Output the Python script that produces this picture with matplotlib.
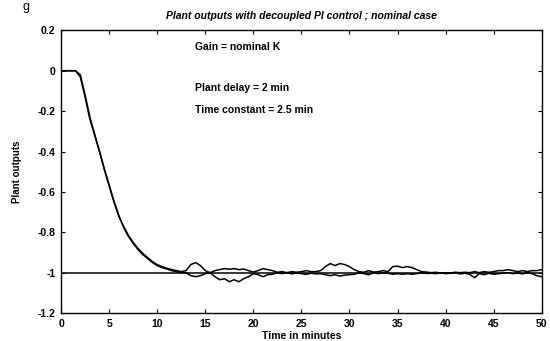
import numpy as np
import matplotlib
matplotlib.use("Agg")
import matplotlib.pyplot as plt

plt.rcParams['font.family'] = ['Liberation Sans', 'DejaVu Sans']

# time grid (minutes), one sample every half minute
t = np.arange(0, 50.5, 0.5)

# plant output 1 (upper one in the oscillation bubbles)
y1 = [0, 0, 0, 0, -0.03, -0.13, -0.24, -0.32, -0.40, -0.49,
      -0.57, -0.65, -0.72, -0.77, -0.815, -0.85, -0.88, -0.905, -0.925, -0.945,
      -0.96, -0.97, -0.978, -0.985, -0.99, -0.995, -0.99, -0.96, -0.95, -0.965,
      -0.99, -1.0, -0.99, -0.985, -0.98, -0.983, -0.98, -0.985, -0.982, -0.99,
      -0.997, -0.99, -0.98, -0.985, -0.99, -0.998, -0.995, -1.0, -0.995, -0.998,
      -0.995, -0.99, -0.995, -0.995, -0.99, -0.97, -0.955, -0.965, -0.955, -0.96,
      -0.97, -0.985, -0.995, -0.998, -0.99, -0.997, -0.995, -0.99, -0.995, -0.97,
      -0.968, -0.975, -0.97, -0.975, -0.985, -0.995, -0.997, -1.0, -0.998, -1.003,
      -1.0, -1.002, -0.998, -1.0, -0.998, -1.0, -0.995, -1.0, -0.995, -0.998,
      -0.995, -0.99, -0.99, -0.985, -0.99, -0.995, -0.99, -0.995, -0.99, -0.99,
      -0.985]

# plant output 2
y2 = [0, 0, 0, 0, -0.02, -0.12, -0.23, -0.315, -0.40, -0.485,
      -0.565, -0.645, -0.715, -0.775, -0.82, -0.855, -0.885, -0.91, -0.93, -0.95,
      -0.965, -0.975, -0.982, -0.99, -0.995, -1.0, -1.0, -1.015, -1.02, -1.015,
      -1.005, -1.0, -1.02, -1.035, -1.03, -1.045, -1.035, -1.045, -1.03, -1.02,
      -1.005, -1.01, -1.02, -1.01, -1.008, -1.0, -1.005, -1.0, -1.006, -1.0,
      -1.005, -1.008, -1.003, -1.006, -1.005, -1.01, -1.015, -1.01, -1.017, -1.012,
      -1.01, -1.008, -1.0, -1.005, -1.01, -1.0, -1.005, -1.0, -1.003, -1.008,
      -1.005, -1.008, -1.005, -1.008, -1.005, -1.0, -1.004, -1.003, -1.005, -1.0,
      -1.005, -1.003, -1.0, -1.006, -1.003, -1.008, -1.025, -1.005, -1.01, -1.003,
      -1.008, -1.005, -1.002, -1.0, -1.005, -1.002, -1.006, -1.0, -1.005, -1.015,
      -1.02]

# setpoint
sp_t = [0, 50]
sp_y = [-1, -1]

notes = ["Gain = nominal K", "Plant delay = 2 min", "Time constant = 2.5 min"]
note_y = [0.12, -0.085, -0.195]

fig = plt.figure(figsize=(5.5, 3.41), dpi=100)
ax = fig.add_axes([0.111, 0.082, 0.874, 0.829])

ax.plot(sp_t, sp_y, color='black', lw=1.1)
ax.plot(t, y1, color='black', lw=1.1)
ax.plot(t, y2, color='black', lw=1.1)

for s, yy in zip(notes, note_y):
    ax.text(13.9, yy, s, fontsize=7.5, fontweight='bold', va='center', ha='left')

ax.set_xlim(0, 50)
ax.set_ylim(-1.2, 0.2)
ax.set_xticks(np.arange(0, 51, 5))
ax.set_yticks([-1.2, -1, -0.8, -0.6, -0.4, -0.2, 0, 0.2])
ax.set_yticklabels(['-1.2', '-1', '-0.8', '-0.6', '-0.4', '-0.2', '0', '0.2'])
ax.tick_params(direction='in', top=True, right=True, length=3, width=0.8,
               labelsize=7.5, pad=4)
for lab in ax.get_xticklabels() + ax.get_yticklabels():
    lab.set_fontweight('bold')
for sp in ax.spines.values():
    sp.set_linewidth(1.0)

ax.set_title("Plant outputs with decoupled PI control ; nominal case",
             fontsize=7.5, fontweight='bold', style='italic', pad=8)
ax.set_xlabel("Time in minutes", fontsize=7.5, fontweight='bold', labelpad=2)
ax.set_ylabel("Plant outputs", fontsize=7, fontweight='bold', labelpad=11)

# leftover of the figure caption at the top edge
fig.text(0.047, 0.998, "g", fontsize=9, ha='center', va='top')

fig.savefig("out.png", dpi=100)
